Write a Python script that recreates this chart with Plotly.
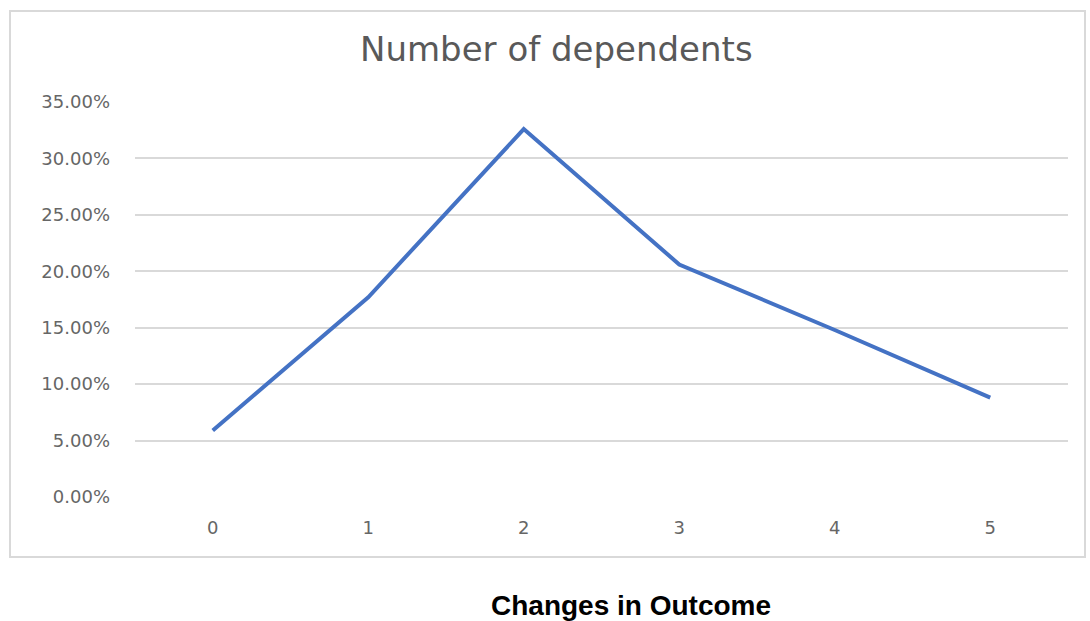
import plotly.graph_objects as go

categories = ["0", "1", "2", "3", "4", "5"]
values = [0.059, 0.177, 0.326, 0.206, 0.148, 0.088]
y_ticks = [0, 0.05, 0.10, 0.15, 0.20, 0.25, 0.30, 0.35]
y_tick_labels = ["0.00%", "5.00%", "10.00%", "15.00%", "20.00%", "25.00%", "30.00%", "35.00%"]

fig = go.Figure()
fig.add_trace(go.Scatter(
    x=categories, y=values, mode="lines",
    line=dict(color="#4472C4", width=4),
    showlegend=False, hoverinfo="skip"))

W, H = 1090, 621
L, R, T, B = 135, 22, 102, 124

tick_font = dict(family="DejaVu Sans", size=18, color="#666666")

fig.update_layout(
    width=W, height=H,
    margin=dict(l=L, r=R, t=T, b=B),
    paper_bgcolor="white", plot_bgcolor="white",
    xaxis=dict(type="category", range=[-0.5, 5.5], showgrid=False, zeroline=False,
               showline=False, ticks="", tickfont=tick_font,
               ticklabelstandoff=18),
    yaxis=dict(range=[0, 0.35], tickvals=y_ticks, ticktext=y_tick_labels,
               showgrid=True, gridcolor="#D9D9D9", gridwidth=1.5, zeroline=False,
               showline=False, ticks="", tickfont=tick_font,
               ticklabelstandoff=24),
    shapes=[dict(type="rect", xref="paper", yref="paper",
                 x0=(10 - L) / (W - L - R), x1=(1085 - L) / (W - L - R),
                 y0=(H - B - 557) / (H - T - B), y1=(H - B - 11) / (H - T - B),
                 line=dict(color="#D9D9D9", width=2), fillcolor="rgba(0,0,0,0)", layer="below")],
    annotations=[
        dict(text="Number of dependents", xref="paper", yref="paper",
             x=(556 - L) / (W - L - R), y=(H - B - 49) / (H - T - B),
             showarrow=False, xanchor="center", yanchor="middle",
             font=dict(family="DejaVu Sans", size=34, color="#595959")),
        dict(text="<b>Changes in Outcome</b>", xref="paper", yref="paper",
             x=(631 - L) / (W - L - R), y=(H - B - 605) / (H - T - B),
             showarrow=False, xanchor="center", yanchor="middle",
             font=dict(family="Liberation Sans, Arial", size=28, color="black")),
    ],
)

fig.write_html("out.html", config={"displayModeBar": False},
               post_script="document.body.style.margin='0px';")
